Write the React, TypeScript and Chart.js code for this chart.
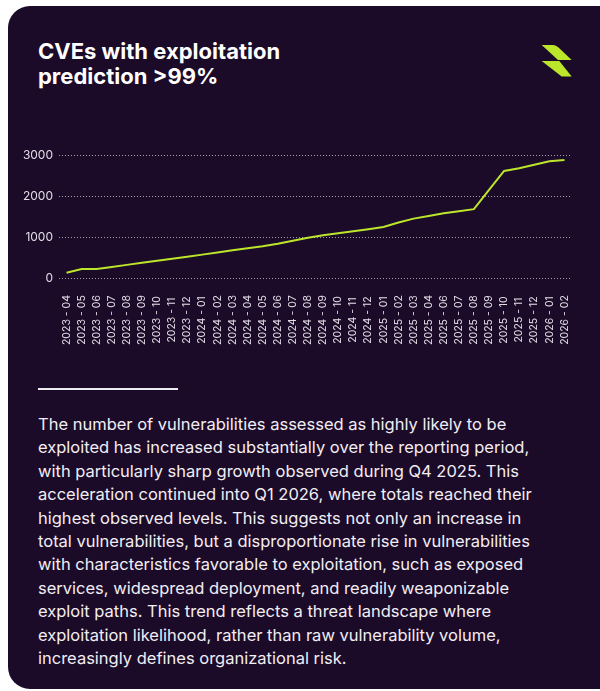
import React, { useEffect, useRef } from "react";
import { Chart, registerables } from "chart.js";

Chart.register(...registerables);

const months: string[] = [
  "2023 - 04", "2023 - 05", "2023 - 06", "2023 - 07", "2023 - 08", "2023 - 09",
  "2023 - 10", "2023 - 11", "2023 - 12", "2024 - 01", "2024 - 02", "2024 - 03",
  "2024 - 04", "2024 - 05", "2024 - 06", "2024 - 07", "2024 - 08", "2024 - 09",
  "2024 - 10", "2024 - 11", "2024 - 12", "2025 - 01", "2025 - 02", "2025 - 03",
  "2025 - 04", "2025 - 06", "2025 - 07", "2025 - 08", "2025 - 09", "2025 - 10",
  "2025 - 11", "2025 - 12", "2026 - 01", "2026 - 02",
];

const cveCounts: number[] = [
  130, 220, 220, 270, 320, 370, 420, 470, 520, 570, 620, 675,
  725, 775, 836, 910, 983, 1044, 1093, 1142, 1190, 1245, 1353, 1448,
  1514, 1580, 1630, 1680, 2150, 2611, 2678, 2762, 2847, 2880,
];

const yTickValues: number[] = [0, 1000, 2000, 3000];

const TITLE_LINES: string[] = ["CVEs with exploitation", "prediction >99%"];

const BODY_LINES: string[] = [
  "The number of vulnerabilities assessed as highly likely to be",
  "exploited has increased substantially over the reporting period,",
  "with particularly sharp growth observed during Q4 2025. This",
  "acceleration continued into Q1 2026, where totals reached their",
  "highest observed levels. This suggests not only an increase in",
  "total vulnerabilities, but a disproportionate rise in vulnerabilities",
  "with characteristics favorable to exploitation, such as exposed",
  "services, widespread deployment, and readily weaponizable",
  "exploit paths. This trend reflects a threat landscape where",
  "exploitation likelihood, rather than raw vulnerability volume,",
  "increasingly defines organizational risk.",
];

const BG = "#1c0a29";
const LIME = "#bbe62a";
const TICK_COLOR = "#e2dde5";
const FONT = "Inter, 'DejaVu Sans', sans-serif";

const xLabelPlugin = {
  id: "centeredXLabels",
  afterDraw(chart: any) {
    const { ctx, chartArea } = chart;
    const x = chart.scales.x;
    ctx.save();
    ctx.fillStyle = TICK_COLOR;
    ctx.font = `10.5px ${FONT}`;
    ctx.textAlign = "center";
    ctx.textBaseline = "middle";
    const cy = chartArea.bottom + 42;
    x.ticks.forEach((t: any, i: number) => {
      const px = x.getPixelForTick(i);
      ctx.save();
      ctx.translate(px, cy);
      ctx.rotate(-Math.PI / 2);
      ctx.fillText(String(x.getLabelForValue(t.value)), 0, 0);
      ctx.restore();
    });
    ctx.restore();
  },
};

function LineChart() {
  const ref = useRef<HTMLCanvasElement | null>(null);
  useEffect(() => {
    if (!ref.current) return;
    const chart = new Chart(ref.current, {
      type: "line",
      data: {
        labels: months,
        datasets: [
          {
            data: cveCounts,
            borderColor: LIME,
            borderWidth: 2,
            pointRadius: 0,
            tension: 0,
            fill: false,
          },
        ],
      },
      options: {
        animation: false,
        responsive: false,
        maintainAspectRatio: false,
        layout: { padding: { left: 3, right: 18, top: 15, bottom: 77 } },
        plugins: { legend: { display: false }, tooltip: { enabled: false } },
        scales: {
          x: {
            offset: true,
            grid: { display: false, drawTicks: false },
            border: { display: false },
            ticks: { display: false, autoSkip: false },
          },
          y: {
            min: 0,
            max: 3000,
            afterBuildTicks: (axis: any) => {
              axis.ticks = yTickValues.map((v) => ({ value: v }));
            },
            afterFit: (axis: any) => {
              axis.width = 36;
            },
            grid: {
              color: "rgba(255,255,255,0.6)",
              lineWidth: 1,
              drawTicks: false,
            },
            border: { display: false, dash: [1, 2] },
            ticks: {
              color: TICK_COLOR,
              font: { family: FONT, size: 12 },
              padding: 6,
              callback: (v: any) => String(v),
            },
          },
        },
      },
      plugins: [xLabelPlugin],
    });
    return () => chart.destroy();
  }, []);
  return (
    <canvas
      ref={ref}
      width={570}
      height={215}
      style={{ position: "absolute", left: 20, top: 140, width: 570, height: 215 }}
    />
  );
}

export default function App() {
  return (
    <div
      style={{
        position: "absolute",
        left: 0,
        top: 0,
        width: 600,
        height: 691,
        overflow: "hidden",
        background: "#ffffff",
        fontFamily: FONT,
      }}
    >
      <div
        style={{
          position: "absolute",
          left: 8,
          top: 6,
          width: 640,
          height: 683,
          borderRadius: 22,
          background: BG,
        }}
      />
      <div
        style={{
          position: "absolute",
          left: 38,
          top: 39,
          color: "#ffffff",
          fontWeight: 700,
          fontSize: 22,
          lineHeight: "25px",
          whiteSpace: "nowrap",
        }}
      >
        {TITLE_LINES.map((l, i) => (
          <div key={i}>{l}</div>
        ))}
      </div>
      <svg
        width={40}
        height={40}
        viewBox="538 42 40 40"
        style={{ position: "absolute", left: 538, top: 42 }}
      >
        <path d="M541.7 45 L553.3 45 Q556 45 558.5 47.5 L571.7 60 L558 60 Z" fill={LIME} />
        <path d="M541.7 61 L559.3 61 L571.7 76.5 L561.7 76.5 Z" fill={LIME} />
      </svg>
      <LineChart />
      <div
        style={{
          position: "absolute",
          left: 38,
          top: 388,
          width: 140,
          height: 2,
          background: "rgba(255,255,255,0.92)",
        }}
      />
      <div
        style={{
          position: "absolute",
          left: 38,
          top: 413,
          color: "#f1eef3",
          fontSize: 16.5,
          lineHeight: "23.4px",
          whiteSpace: "nowrap",
        }}
      >
        {BODY_LINES.map((l, i) => (
          <div key={i}>{l}</div>
        ))}
      </div>
    </div>
  );
}
